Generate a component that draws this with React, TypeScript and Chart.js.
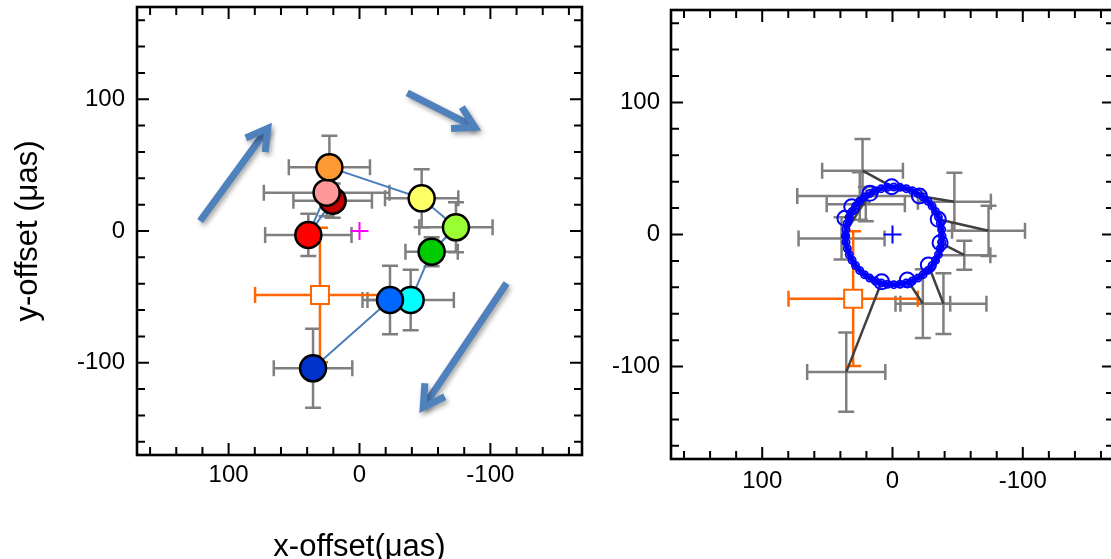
import React, { useEffect, useRef } from 'react';
import { Chart, registerables } from 'chart.js';
Chart.register(...registerables);

const FONT = "'Liberation Sans', Arial, Helvetica, sans-serif";

// Observed positions (epoch order: dark red, red, pink, orange, yellow, light green, green, cyan, blue, dark blue)
const pointColors = ['#c00000', '#ff0000', '#ff9999', '#ff9933', '#ffff66', '#99ff33', '#00cc00', '#00ffff', '#0066ff', '#0033cc'];
const obsX = [20.5, 39.1, 25.1, 23.0, -47.5, -73.7, -55.1, -39.1, -23.3, 35.5];
const obsY = [23.0, -3.0, 29.1, 48.3, 24.8, 2.8, -15.7, -52.4, -52.4, -104.2];
const obsXErr = [30, 33, 48, 31, 28, 28, 20, 33, 21, 30];
const obsYErr = [13, 16, 18, 24, 22, 19, 11, 23, 26, 30];

// Reference (orange open square)
const refX = [30.2];
const refY = [-48.6];
const refXErr = [49.6];
const refYErr = [51];

// Centre marks
const centreX = [0];
const centreY = [0];

// Model positions at the observed epochs (right panel)
const modelX = [31.3, 17.3, 36.5, 0.6, -20.6, -35.1, -36.5, -27.5, -11.4, 8.3];
const modelY = [21.0, 31.2, 12.3, 36.2, 29.2, 11.5, -6.2, -23.1, -34.5, -35.8];

// Model orbit ring (right panel)
const ringX = [36, 35.7, 34.7, 33.2, 31, 28.4, 25.2, 21.5, 17.5, 13.2, 8.6, 3.8, -1, -5.8, -10.6, -15.2, -19.5, -23.5, -27.2, -30.4, -33, -35.2, -36.7, -37.7, -38, -37.7, -36.7, -35.2, -33, -30.4, -27.2, -23.5, -19.5, -15.2, -10.6, -5.8, -1, 3.8, 8.6, 13.2, 17.5, 21.5, 25.2, 28.4, 31, 33.2, 34.7, 35.7, 36];
const ringY = [-1, 3.8, 8.6, 13.2, 17.5, 21.5, 25.2, 28.4, 31, 33.2, 34.7, 35.7, 36, 35.7, 34.7, 33.2, 31, 28.4, 25.2, 21.5, 17.5, 13.2, 8.6, 3.8, -1, -5.8, -10.6, -15.2, -19.5, -23.5, -27.2, -30.4, -33, -35.2, -36.7, -37.7, -38, -37.7, -36.7, -35.2, -33, -30.4, -27.2, -23.5, -19.5, -15.2, -10.6, -5.8, -1];

// Rotation arrows (left panel), data coordinates
const arrowFromX = [121.8, -36.5, -112.4];
const arrowFromY = [7.6, 104.9, -39.7];
const arrowToX = [70.1, -88.2, -48.7];
const arrowToY = [77.9, 78.7, -133.8];

// Axes
const tickValues = [-160, -140, -120, -100, -80, -60, -40, -20, 0, 20, 40, 60, 80, 100, 120, 140, 160];
const labeledTicks = [-100, 0, 100];
const axisMin = -170;
const axisMax = 170;

function drawErrorBars(chart: any, xs: number[], ys: number[], xe: number[], ye: number[], color: string, lw: number) {
  const { ctx } = chart;
  const sx = chart.scales.x;
  const sy = chart.scales.y;
  const cap = 8;
  ctx.save();
  ctx.strokeStyle = color;
  ctx.lineWidth = lw;
  ctx.lineCap = 'butt';
  for (let i = 0; i < xs.length; i++) {
    const px = sx.getPixelForValue(xs[i]);
    const py = sy.getPixelForValue(ys[i]);
    const x1 = sx.getPixelForValue(xs[i] - xe[i]);
    const x2 = sx.getPixelForValue(xs[i] + xe[i]);
    const y1 = sy.getPixelForValue(ys[i] - ye[i]);
    const y2 = sy.getPixelForValue(ys[i] + ye[i]);
    ctx.beginPath();
    ctx.moveTo(x1, py); ctx.lineTo(x2, py);
    ctx.moveTo(px, y1); ctx.lineTo(px, y2);
    ctx.moveTo(x1, py - cap); ctx.lineTo(x1, py + cap);
    ctx.moveTo(x2, py - cap); ctx.lineTo(x2, py + cap);
    ctx.moveTo(px - cap, y1); ctx.lineTo(px + cap, y1);
    ctx.moveTo(px - cap, y2); ctx.lineTo(px + cap, y2);
    ctx.stroke();
  }
  ctx.restore();
}

const framePlugin = {
  id: 'frameTicks',
  afterDraw(chart: any) {
    const { ctx, chartArea } = chart;
    const { left, right, top, bottom } = chartArea;
    const sx = chart.scales.x;
    const sy = chart.scales.y;
    ctx.save();
    ctx.strokeStyle = '#000';
    ctx.lineWidth = 2;
    ctx.beginPath();
    for (const v of tickValues) {
      const len = v % 100 === 0 ? 12 : 8;
      const px = sx.getPixelForValue(v);
      const py = sy.getPixelForValue(v);
      ctx.moveTo(px, bottom); ctx.lineTo(px, bottom - len);
      ctx.moveTo(px, top); ctx.lineTo(px, top + len);
      ctx.moveTo(left, py); ctx.lineTo(left + len, py);
      ctx.moveTo(right, py); ctx.lineTo(right - len, py);
    }
    ctx.stroke();
    ctx.lineWidth = 2.6;
    ctx.strokeRect(left, top, right - left, bottom - top);
    ctx.restore();
  },
};

function makeScales(yWidth: number, xHeight: number, yPad: number, xPad: number, yTitle: string | null, xTitle: string | null, xTitlePad: number) {
  const tickFont = { family: FONT, size: 24 };
  const titleFont = { family: FONT, size: 31 };
  const cb = (v: any) => (labeledTicks.includes(Number(v)) ? String(v) : null);
  return {
    x: {
      type: 'linear',
      min: axisMin,
      max: axisMax,
      reverse: true,
      grid: { display: false, drawTicks: false },
      border: { display: false },
      afterBuildTicks: (s: any) => { s.ticks = tickValues.map((v) => ({ value: v })); },
      ticks: { autoSkip: false, maxRotation: 0, minRotation: 0, padding: xPad, color: '#000', font: tickFont, callback: cb },
      title: xTitle
        ? { display: true, text: xTitle, color: '#000', font: titleFont, padding: { top: 0, bottom: xTitlePad } }
        : { display: false },
      afterFit: (s: any) => { s.height = xHeight; s.paddingLeft = 0; s.paddingRight = 0; },
    },
    y: {
      type: 'linear',
      min: axisMin,
      max: axisMax,
      grid: { display: false, drawTicks: false },
      border: { display: false },
      afterBuildTicks: (s: any) => { s.ticks = tickValues.map((v) => ({ value: v })); },
      ticks: { autoSkip: false, padding: yPad, color: '#000', font: tickFont, callback: cb },
      title: yTitle
        ? { display: true, text: yTitle, color: '#000', font: titleFont, padding: { top: 10, bottom: 0 } }
        : { display: false },
      afterFit: (s: any) => { s.width = yWidth; s.paddingTop = 0; s.paddingBottom = 0; },
    },
  };
}

const pts = (xs: number[], ys: number[]) => xs.map((x, i) => ({ x, y: ys[i] }));

export default function App() {
  const leftRef = useRef<HTMLCanvasElement>(null);
  const rightRef = useRef<HTMLCanvasElement>(null);

  useEffect(() => {
    const arrowPlugin = {
      id: 'arrows',
      afterDatasetsDraw(chart: any) {
        const { ctx } = chart;
        const sx = chart.scales.x;
        const sy = chart.scales.y;
        ctx.save();
        ctx.strokeStyle = '#4f81bd';
        ctx.lineWidth = 7;
        ctx.lineJoin = 'miter';
        ctx.lineCap = 'butt';
        ctx.shadowColor = 'rgba(0,0,0,0.35)';
        ctx.shadowBlur = 5;
        ctx.shadowOffsetX = 2;
        ctx.shadowOffsetY = 3;
        for (let i = 0; i < arrowFromX.length; i++) {
          const x0 = sx.getPixelForValue(arrowFromX[i]);
          const y0 = sy.getPixelForValue(arrowFromY[i]);
          const x1 = sx.getPixelForValue(arrowToX[i]);
          const y1 = sy.getPixelForValue(arrowToY[i]);
          const ang = Math.atan2(y0 - y1, x0 - x1);
          const L = 24;
          const a = Math.PI / 6;
          ctx.beginPath();
          ctx.moveTo(x0, y0);
          ctx.lineTo(x1, y1);
          ctx.stroke();
          ctx.beginPath();
          ctx.moveTo(x1 + L * Math.cos(ang + a), y1 + L * Math.sin(ang + a));
          ctx.lineTo(x1, y1);
          ctx.lineTo(x1 + L * Math.cos(ang - a), y1 + L * Math.sin(ang - a));
          ctx.stroke();
        }
        ctx.restore();
      },
    };

    const barsPlugin = {
      id: 'errorBars',
      beforeDatasetsDraw(chart: any) {
        drawErrorBars(chart, obsX, obsY, obsXErr, obsYErr, '#7f7f7f', 2.5);
        drawErrorBars(chart, refX, refY, refXErr, refYErr, '#ff6600', 2.5);
      },
    };

    const common = {
      animation: false,
      responsive: false,
      events: [],
      plugins: { legend: { display: false }, tooltip: { enabled: false } },
    };

    const c1 = new Chart(leftRef.current as HTMLCanvasElement, {
      type: 'scatter',
      data: {
        datasets: [
          {
            data: pts(obsX, obsY),
            pointRadius: 13,
            pointBackgroundColor: pointColors,
            pointBorderColor: '#000',
            pointBorderWidth: 2.5,
            showLine: false,
            order: 0,
          },
          {
            data: pts(obsX, obsY),
            showLine: true,
            borderColor: '#4a7ebb',
            borderWidth: 2,
            pointRadius: 0,
            order: 1,
          },
          {
            data: pts(refX, refY),
            pointStyle: 'rect',
            pointRadius: 12.7,
            pointBackgroundColor: '#ffffff',
            pointBorderColor: '#ff6600',
            pointBorderWidth: 2,
            order: 2,
          },
          {
            data: pts(centreX, centreY),
            pointStyle: 'cross',
            pointRadius: 9,
            pointBorderColor: '#ff00ff',
            pointBorderWidth: 2,
            order: 3,
          },
        ],
      },
      options: {
        ...common,
        layout: { autoPadding: false, padding: { left: 0, top: 7, right: 18, bottom: 0 } },
        scales: makeScales(137, 115, 12, 6, 'y-offset (\u03bcas)', 'x-offset(\u03bcas)', 4),
      } as any,
      plugins: [barsPlugin, arrowPlugin, framePlugin],
    } as any);

    const residualSets = obsX.map((x, i) => ({
      data: [{ x, y: obsY[i] }, { x: modelX[i], y: modelY[i] }],
      showLine: true,
      borderColor: '#404040',
      borderWidth: 2.5,
      pointRadius: 0,
      order: 3,
    }));

    const c2 = new Chart(rightRef.current as HTMLCanvasElement, {
      type: 'scatter',
      data: {
        datasets: [
          {
            data: pts(centreX, centreY),
            pointStyle: 'cross',
            pointRadius: 9,
            pointBorderColor: '#0000ff',
            pointBorderWidth: 2,
            order: 0,
          },
          {
            data: pts(modelX, modelY),
            pointRadius: 7.5,
            pointBackgroundColor: 'rgba(0,0,0,0)',
            pointBorderColor: '#0000ff',
            pointBorderWidth: 2,
            order: 1,
          },
          {
            data: pts(ringX, ringY),
            showLine: true,
            borderColor: '#0000ff',
            borderWidth: 5,
            pointRadius: 3.6,
            pointBackgroundColor: 'rgba(0,0,0,0)',
            pointBorderColor: '#0000ff',
            pointBorderWidth: 1.8,
            order: 2,
          },
          ...residualSets,
          {
            data: pts(refX, refY),
            pointStyle: 'rect',
            pointRadius: 12.7,
            pointBackgroundColor: '#ffffff',
            pointBorderColor: '#ff6600',
            pointBorderWidth: 2,
            order: 4,
          },
        ],
      },
      options: {
        ...common,
        layout: { autoPadding: false, padding: { left: 0, top: 10, right: 16, bottom: 0 } },
        scales: makeScales(71, 111, 11, 8, null, null, 0),
      } as any,
      plugins: [barsPlugin, framePlugin],
    } as any);

    return () => {
      c1.destroy();
      c2.destroy();
    };
  }, []);

  return (
    <div style={{ position: 'fixed', left: 0, top: 0, width: 1111, height: 559, overflow: 'hidden', background: '#ffffff' }}>
      <canvas ref={leftRef} width={600} height={570} style={{ position: 'absolute', left: 0, top: 0 }} />
      <canvas ref={rightRef} width={530} height={570} style={{ position: 'absolute', left: 600, top: 0 }} />
    </div>
  );
}
